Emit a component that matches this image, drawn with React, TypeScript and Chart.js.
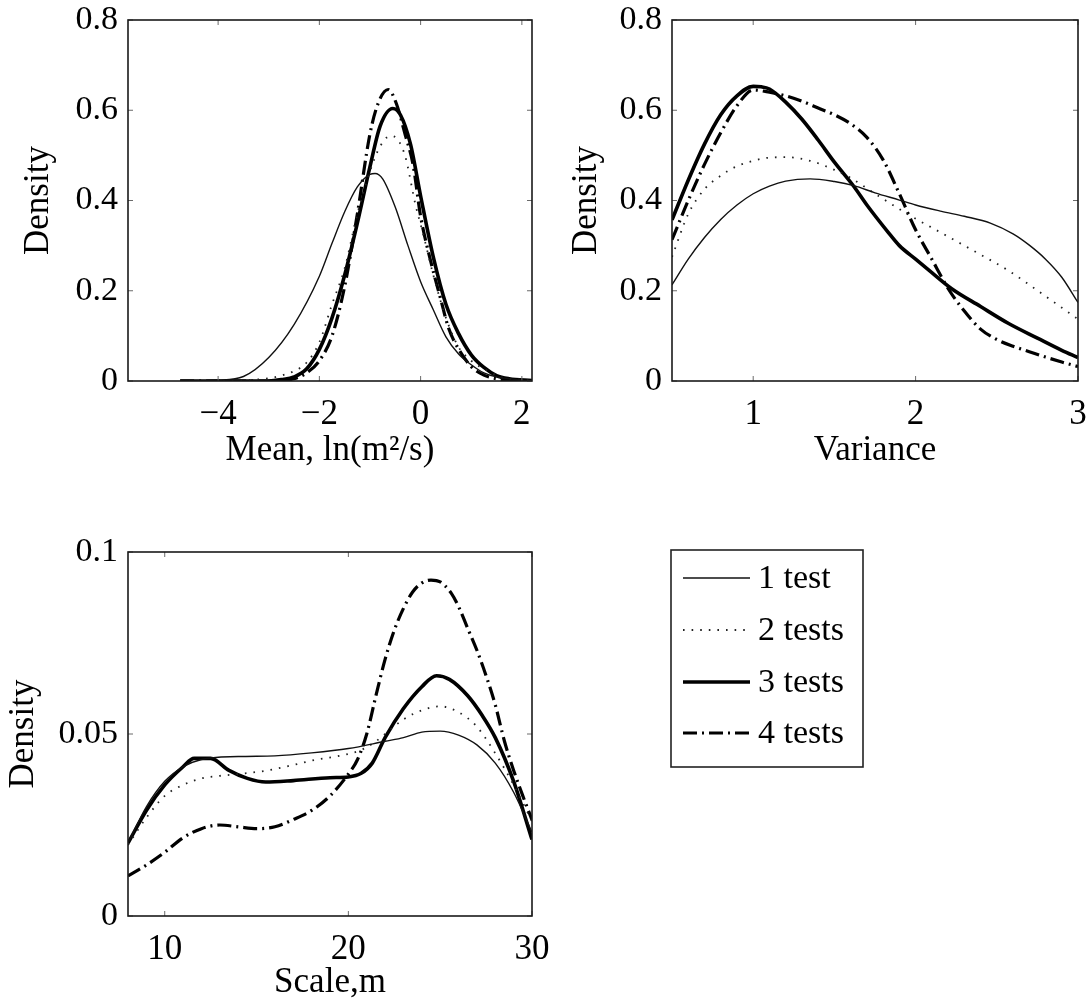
import React, { useEffect, useRef } from "react";
import { Chart, registerables } from "chart.js";

Chart.register(...registerables);

// ---------- DATA ----------
const seriesLabels = ["1 test", "2 tests", "3 tests", "4 tests"];

// Panel 1: Mean, ln(m^2/s)
const mean1X = [-4.75, -4.0, -3.5, -3.0, -2.5, -2.0, -1.75, -1.5, -1.25, -1.0, -0.9, -0.75, -0.5, -0.25, 0, 0.25, 0.5, 0.75, 1.0, 1.25, 1.5, 2.0, 2.2];
const mean1Y = [0, 0.002, 0.01, 0.052, 0.125, 0.232, 0.305, 0.375, 0.43, 0.458, 0.46, 0.448, 0.385, 0.3, 0.22, 0.158, 0.098, 0.06, 0.036, 0.018, 0.009, 0.002, 0.001];
const mean2X = [-4.75, -3.5, -3.0, -2.75, -2.5, -2.25, -2.0, -1.75, -1.5, -1.25, -1.0, -0.8, -0.6, -0.45, -0.3, -0.1, 0.05, 0.25, 0.5, 0.75, 1.0, 1.3, 1.6, 2.0, 2.2];
const mean2Y = [0, 0.002, 0.006, 0.012, 0.022, 0.041, 0.086, 0.17, 0.25, 0.37, 0.465, 0.52, 0.543, 0.535, 0.496, 0.39, 0.326, 0.235, 0.14, 0.075, 0.045, 0.024, 0.008, 0.003, 0.001];
const mean3X = [-4.75, -3.0, -2.75, -2.5, -2.25, -2.0, -1.75, -1.5, -1.25, -1.0, -0.8, -0.55, -0.4, -0.2, 0, 0.25, 0.5, 0.75, 1.0, 1.25, 1.5, 1.75, 2.2];
const mean3Y = [0, 0, 0.003, 0.009, 0.027, 0.07, 0.14, 0.235, 0.35, 0.475, 0.565, 0.604, 0.59, 0.525, 0.41, 0.275, 0.17, 0.105, 0.058, 0.03, 0.012, 0.005, 0.001];
const mean4X = [-4.75, -3.0, -2.5, -2.25, -2.0, -1.75, -1.5, -1.25, -1.0, -0.83, -0.64, -0.48, -0.3, -0.15, 0, 0.2, 0.4, 0.55, 0.77, 1.0, 1.25, 1.5, 2.0, 2.2];
const mean4Y = [0, 0, 0.005, 0.018, 0.045, 0.1, 0.21, 0.37, 0.548, 0.618, 0.646, 0.615, 0.544, 0.48, 0.365, 0.265, 0.18, 0.118, 0.067, 0.032, 0.013, 0.005, 0.001, 0];

// Panel 2: Variance
const var1X = [0.5, 0.6, 0.7, 0.8, 0.9, 1.0, 1.1, 1.2, 1.35, 1.5, 1.62, 1.75, 1.9, 2.0, 2.16, 2.3, 2.46, 2.6, 2.7, 2.8, 2.9, 3.0];
const var1Y = [0.213, 0.27, 0.318, 0.358, 0.39, 0.415, 0.432, 0.443, 0.448, 0.442, 0.433, 0.417, 0.401, 0.39, 0.376, 0.365, 0.35, 0.326, 0.301, 0.27, 0.23, 0.174];
const var2X = [0.5, 0.6, 0.7, 0.8, 0.9, 1.0, 1.1, 1.2, 1.35, 1.5, 1.6, 1.75, 1.95, 2.16, 2.36, 2.57, 2.78, 3.0];
const var2Y = [0.275, 0.37, 0.425, 0.455, 0.476, 0.488, 0.495, 0.496, 0.488, 0.468, 0.45, 0.415, 0.37, 0.328, 0.288, 0.245, 0.193, 0.137];
const var3X = [0.5, 0.6, 0.7, 0.8, 0.9, 1.0, 1.05, 1.1, 1.2, 1.3, 1.4, 1.5, 1.62, 1.7, 1.83, 1.9, 2.0, 2.1, 2.22, 2.4, 2.57, 2.75, 2.9, 3.0];
const var3Y = [0.357, 0.445, 0.525, 0.59, 0.632, 0.653, 0.652, 0.647, 0.618, 0.58, 0.534, 0.485, 0.431, 0.39, 0.33, 0.3, 0.27, 0.24, 0.205, 0.165, 0.128, 0.095, 0.068, 0.052];
const var4X = [0.5, 0.6, 0.7, 0.8, 0.9, 1.0, 1.1, 1.2, 1.3, 1.4, 1.5, 1.6, 1.7, 1.8, 1.9, 2.0, 2.1, 2.2, 2.3, 2.4, 2.5, 2.6, 2.7, 2.8, 2.9, 3.0];
const var4Y = [0.313, 0.4, 0.48, 0.55, 0.61, 0.645, 0.64, 0.632, 0.62, 0.605, 0.59, 0.57, 0.54, 0.49, 0.415, 0.335, 0.27, 0.205, 0.155, 0.115, 0.092, 0.077, 0.065, 0.053, 0.042, 0.032];

// Panel 3: Scale, m
const sc1X = [8, 9, 10, 11, 12, 14, 16, 18, 20, 22, 23, 24, 25, 26, 27, 28, 29, 30];
const sc1Y = [0.02, 0.03, 0.037, 0.041, 0.043, 0.0438, 0.044, 0.0448, 0.046, 0.048, 0.049, 0.0505, 0.0508, 0.0497, 0.047, 0.042, 0.034, 0.023];
const sc2X = [8, 9, 10, 11, 12, 13, 14, 15.6, 17, 18.3, 19.5, 20.7, 21.5, 22, 23, 24, 25, 26, 27, 28, 29, 30];
const sc2Y = [0.0195, 0.027, 0.033, 0.036, 0.0378, 0.0385, 0.039, 0.04, 0.0415, 0.043, 0.044, 0.0456, 0.048, 0.05, 0.054, 0.0565, 0.0576, 0.056, 0.052, 0.0447, 0.036, 0.026];
const sc3X = [8, 9, 10, 11, 11.6, 12.5, 13.5, 14.5, 15.5, 17, 19, 20, 20.7, 21.3, 22, 23, 24, 24.8, 25.5, 26.5, 27.3, 28, 29, 30];
const sc3Y = [0.02, 0.029, 0.036, 0.041, 0.0433, 0.0433, 0.04, 0.0378, 0.0368, 0.0372, 0.038, 0.0382, 0.0392, 0.042, 0.049, 0.057, 0.063, 0.066, 0.065, 0.0605, 0.055, 0.049, 0.037, 0.021];
const sc4X = [8, 9, 10, 11, 12, 13, 14, 15, 16, 17, 18, 19, 20, 20.5, 21, 21.5, 22, 22.5, 23, 23.5, 24, 24.5, 25, 25.6, 26, 26.5, 27, 27.5, 28, 28.5, 29, 29.5, 30];
const sc4Y = [0.011, 0.014, 0.0175, 0.0215, 0.024, 0.025, 0.0245, 0.024, 0.0245, 0.0265, 0.029, 0.033, 0.039, 0.043, 0.05, 0.0605, 0.0705, 0.0785, 0.0845, 0.089, 0.0915, 0.0923, 0.0918, 0.0887, 0.085, 0.079, 0.073, 0.066, 0.058, 0.048, 0.04, 0.033, 0.0264];

// Ticks
const meanXTicks = [-4, -2, 0, 2];
const meanXTickLabels = ["\u22124", "\u22122", "0", "2"];
const densityYTicks = [0, 0.2, 0.4, 0.6, 0.8];
const densityYTickLabels = ["0", "0.2", "0.4", "0.6", "0.8"];
const varXTicks = [1, 2, 3];
const varXTickLabels = ["1", "2", "3"];
const scaleXTicks = [10, 20, 30];
const scaleXTickLabels = ["10", "20", "30"];
const scaleYTicks = [0, 0.05, 0.1];
const scaleYTickLabels = ["0", "0.05", "0.1"];

// ---------- STYLE ----------
const FONT = "'Liberation Serif', 'Times New Roman', 'DejaVu Serif', serif";
const lineStyles = [
  { color: "#111", width: 1.4, dash: [] as number[] },
  { color: "#222", width: 1.8, dash: [1.6, 7] },
  { color: "#000", width: 3.6, dash: [] as number[] },
  { color: "#000", width: 3.2, dash: [14, 5, 2, 5] },
];

type PanelCfg = {
  left: number; top: number; width: number; height: number;
  padding: { top: number; right: number; bottom: number; left: number };
  yWidth: number; xHeight: number;
  xMin: number; xMax: number; yMin: number; yMax: number;
  xTicks: number[]; xTickLabels: string[];
  yTicks: number[]; yTickLabels: string[];
  xTitle: string; yTitle: string;
  xTitlePad: number; yTitlePad: number;
  xs: number[][]; ys: number[][];
  legend?: { x: number; y: number; w: number; h: number; itemY: number[]; lineX0: number; lineX1: number; textX: number };
};

function buildConfig(p: PanelCfg): any {
  const datasets = p.xs.map((xArr, i) => ({
    label: seriesLabels[i],
    data: xArr.map((x, j) => ({ x, y: p.ys[i][j] })),
    borderColor: lineStyles[i].color,
    borderWidth: lineStyles[i].width,
    borderDash: lineStyles[i].dash,
    borderCapStyle: "butt",
    borderJoinStyle: "round",
    pointRadius: 0,
    fill: false,
    cubicInterpolationMode: "monotone",
  }));

  const framePlugin = {
    id: "matlabFrame",
    afterDatasetsDraw(chart: any) {
      const { ctx, chartArea: a, scales } = chart;
      ctx.save();
      ctx.setLineDash([]);
      ctx.strokeStyle = "#6a6a6a";
      ctx.lineWidth = 1;
      const L = 5;
      const seg = (x0: number, y0: number, x1: number, y1: number) => {
        ctx.beginPath(); ctx.moveTo(x0, y0); ctx.lineTo(x1, y1); ctx.stroke();
      };
      scales.x.ticks.forEach((t: any) => {
        const px = scales.x.getPixelForValue(t.value);
        seg(px, a.bottom, px, a.bottom - L);
        seg(px, a.top, px, a.top + L);
      });
      scales.y.ticks.forEach((t: any) => {
        const py = scales.y.getPixelForValue(t.value);
        seg(a.left, py, a.left + L, py);
        seg(a.right, py, a.right - L, py);
      });
      ctx.strokeStyle = "#1a1a1a";
      ctx.lineWidth = 1.6;
      ctx.strokeRect(a.left, a.top, a.right - a.left, a.bottom - a.top);
      ctx.restore();
    },
    afterDraw(chart: any) {
      const lg = p.legend;
      if (!lg) return;
      const { ctx } = chart;
      ctx.save();
      ctx.fillStyle = "#fff";
      ctx.fillRect(lg.x, lg.y, lg.w, lg.h);
      ctx.strokeStyle = "#222";
      ctx.lineWidth = 1.6;
      ctx.setLineDash([]);
      ctx.strokeRect(lg.x, lg.y, lg.w, lg.h);
      chart.data.datasets.forEach((ds: any, i: number) => {
        const y = lg.itemY[i];
        ctx.save();
        ctx.strokeStyle = ds.borderColor;
        ctx.lineWidth = ds.borderWidth;
        ctx.lineCap = "butt";
        ctx.setLineDash(ds.borderDash || []);
        ctx.beginPath(); ctx.moveTo(lg.lineX0, y); ctx.lineTo(lg.lineX1, y); ctx.stroke();
        ctx.restore();
        ctx.fillStyle = "#000";
        ctx.font = `34px ${FONT}`;
        ctx.textBaseline = "middle";
        ctx.textAlign = "left";
        ctx.fillText(ds.label, lg.textX, y + 1);
      });
      ctx.restore();
    },
  };

  return {
    type: "line",
    data: { datasets },
    options: {
      animation: false,
      responsive: false,
      maintainAspectRatio: false,
      devicePixelRatio: 1,
      layout: { padding: p.padding },
      plugins: { legend: { display: false }, tooltip: { enabled: false } },
      events: [],
      scales: {
        x: {
          type: "linear",
          min: p.xMin,
          max: p.xMax,
          afterBuildTicks: (s: any) => { s.ticks = p.xTicks.map((v) => ({ value: v })); },
          afterFit: (s: any) => { s.height = p.xHeight; s.paddingLeft = 0; s.paddingRight = 0; },
          grid: { display: false, drawTicks: false },
          border: { display: false },
          ticks: {
            autoSkip: false, maxRotation: 0, minRotation: 0, padding: 13, color: "#000",
            font: { family: FONT, size: 35, lineHeight: 1.2 },
            callback: (_v: any, i: number) => p.xTickLabels[i],
          },
          title: {
            display: true, text: p.xTitle, color: "#000",
            font: { family: FONT, size: 35, lineHeight: 1.2 },
            padding: { top: 0, bottom: p.xTitlePad },
          },
        },
        y: {
          type: "linear",
          min: p.yMin,
          max: p.yMax,
          afterBuildTicks: (s: any) => { s.ticks = p.yTicks.map((v) => ({ value: v })); },
          afterFit: (s: any) => { s.width = p.yWidth; s.paddingTop = 0; s.paddingBottom = 0; },
          grid: { display: false, drawTicks: false },
          border: { display: false },
          ticks: {
            autoSkip: false, padding: 10, color: "#000",
            font: { family: FONT, size: 34, lineHeight: 1.2 },
            callback: (_v: any, i: number) => p.yTickLabels[i],
          },
          title: {
            display: true, text: p.yTitle, color: "#000",
            font: { family: FONT, size: 35, lineHeight: 1.2 },
            padding: { top: p.yTitlePad, bottom: 0 },
          },
        },
      },
    },
    plugins: [framePlugin],
  };
}

const panels: PanelCfg[] = [
  {
    left: 0, top: 0, width: 560, height: 481,
    padding: { top: 20, right: 28, bottom: 0, left: 0 },
    yWidth: 128, xHeight: 100,
    xMin: -5.78, xMax: 2.2, yMin: 0, yMax: 0.8,
    xTicks: meanXTicks, xTickLabels: meanXTickLabels,
    yTicks: densityYTicks, yTickLabels: densityYTickLabels,
    xTitle: "Mean, ln(m\u00B2/s)", yTitle: "Density",
    xTitlePad: 9, yTitlePad: 18,
    xs: [mean1X, mean2X, mean3X, mean4X], ys: [mean1Y, mean2Y, mean3Y, mean4Y],
  },
  {
    left: 560, top: 0, width: 530, height: 481,
    padding: { top: 20, right: 12, bottom: 0, left: 0 },
    yWidth: 112, xHeight: 100,
    xMin: 0.5, xMax: 3, yMin: 0, yMax: 0.8,
    xTicks: varXTicks, xTickLabels: varXTickLabels,
    yTicks: densityYTicks, yTickLabels: densityYTickLabels,
    xTitle: "Variance", yTitle: "Density",
    xTitlePad: 9, yTitlePad: 6,
    xs: [var1X, var2X, var3X, var4X], ys: [var1Y, var2Y, var3Y, var4Y],
  },
  {
    left: 0, top: 500, width: 1090, height: 506,
    padding: { top: 52, right: 558, bottom: 0, left: 0 },
    yWidth: 128, xHeight: 90,
    xMin: 8, xMax: 30, yMin: 0, yMax: 0.1,
    xTicks: scaleXTicks, xTickLabels: scaleXTickLabels,
    yTicks: scaleYTicks, yTickLabels: scaleYTickLabels,
    xTitle: "Scale,m", yTitle: "Density",
    xTitlePad: 2, yTitlePad: 3,
    xs: [sc1X, sc2X, sc3X, sc4X], ys: [sc1Y, sc2Y, sc3Y, sc4Y],
    legend: { x: 671, y: 50, w: 192, h: 217, itemY: [78, 130, 182, 233], lineX0: 683, lineX1: 750, textX: 758 },
  },
];

function Panel({ cfg }: { cfg: PanelCfg }) {
  const ref = useRef<HTMLCanvasElement>(null);
  useEffect(() => {
    const chart = new Chart(ref.current as HTMLCanvasElement, buildConfig(cfg));
    return () => chart.destroy();
  }, [cfg]);
  return (
    <canvas
      ref={ref}
      width={cfg.width}
      height={cfg.height}
      style={{ position: "absolute", left: cfg.left, top: cfg.top, width: cfg.width, height: cfg.height }}
    />
  );
}

export default function App() {
  return (
    <div style={{ position: "absolute", left: 0, top: 0, width: 1090, height: 1006, background: "#fff", overflow: "hidden" }}>
      {panels.map((p, i) => (
        <Panel key={i} cfg={p} />
      ))}
    </div>
  );
}
